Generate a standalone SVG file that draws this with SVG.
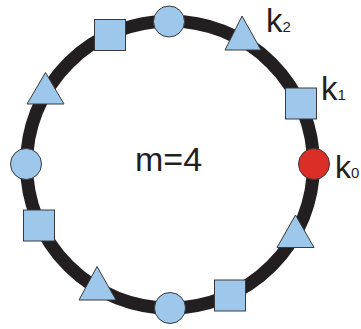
<svg xmlns="http://www.w3.org/2000/svg" width="361" height="329" viewBox="0 0 361 329">
<style>
.ring{fill:none;stroke:#231f20;stroke-width:13}
.n{fill:#9dc8eb;stroke:#3a3a3a;stroke-width:1}
.r{fill:#da2e26;stroke:#3a3a3a;stroke-width:1}
.t{font-family:"Liberation Sans",Arial,sans-serif;fill:#231f20}
</style>
<rect width="361" height="329" fill="#fff"/>
<g id="connectors"><circle class="ring" cx="170" cy="164.5" r="143.5"/></g>
<g id="c_top"><circle class="n" cx="169" cy="21.5" r="15.5"/></g>
<g id="c_left"><circle class="n" cx="26" cy="164" r="15.5"/></g>
<g id="c_bottom"><circle class="n" cx="170" cy="308" r="15.5"/></g>
<g id="k0"><circle class="r" cx="314" cy="164" r="15.5"/><text class="t" x="335" y="178" font-size="32">k<tspan font-size="15">0</tspan></text></g>
<g id="s_topleft"><rect class="n" x="94.5" y="19.5" width="31" height="31"/></g>
<g id="k1"><rect class="n" x="285.5" y="88" width="31" height="31"/><text class="t" x="321" y="99.5" font-size="33">k<tspan font-size="15">1</tspan></text></g>
<g id="s_left"><rect class="n" x="23.5" y="210" width="31" height="31"/></g>
<g id="s_bottom"><rect class="n" x="214.5" y="280" width="31" height="31"/></g>
<g id="k2"><polygon class="n" points="242,16 261,50 225,50"/><text class="t" x="266" y="32" font-size="33">k<tspan font-size="15">2</tspan></text></g>
<g id="t_left"><polygon class="n" points="45.5,72.5 64,104 27,104"/></g>
<g id="t_right"><polygon class="n" points="295.5,215 314,247.5 277,247.5"/></g>
<g id="t_bottom"><polygon class="n" points="97,266.5 116,300 79,300"/></g>
<g id="label"><text class="t" x="135" y="171" font-size="34">m=4</text></g>
</svg>
